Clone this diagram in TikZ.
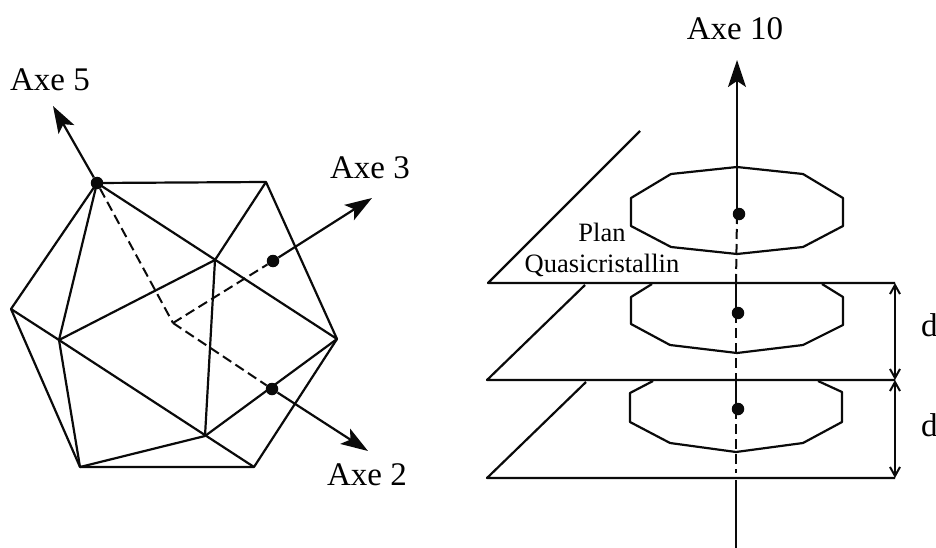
\documentclass[tikz,border=0pt]{standalone}
\usepackage{fontspec}
\setmainfont{Liberation Serif}
\usetikzlibrary{arrows.meta}
\definecolor{inkblack}{HTML}{0A0A0A}

\tikzset{
  edge/.style={inkblack,line width=2.2pt,line join=round},
  hidden/.style={inkblack,line width=2pt,dash pattern=on 10pt off 5pt},
  axis/.style={inkblack,line width=2.2pt,-{Stealth[length=27pt,width=18pt,inset=6pt]}},
  dimline/.style={inkblack,line width=1.9pt,{Straight Barb[length=9pt,width=10pt,line width=2pt]}-{Straight Barb[length=9pt,width=10pt,line width=2pt]}},
  dotmark/.style={circle,fill=inkblack,inner sep=0pt,minimum size=12.5pt},
  axlabel/.style={font=\fontsize{33}{35}\selectfont,inner sep=0pt},
  planlabel/.style={font=\fontsize{26.5}{28}\selectfont,inner sep=0pt}
}

\begin{document}
\begin{tikzpicture}[x=1pt,y=-1pt]

  \useasboundingbox (0,0) rectangle (936,548);

  % =====================================================================
  % LEFT -- icosahedron
  % =====================================================================
  \coordinate (topL) at (97,183);
  \coordinate (topR) at (266,182);
  \coordinate (left) at (11,309);
  \coordinate (right) at (337,339);
  \coordinate (front) at (215,260);
  \coordinate (inner) at (59,340);
  \coordinate (botL) at (80,467);
  \coordinate (botR) at (254,467);
  \coordinate (lower) at (205,436);
  \coordinate (centre) at (173,323);

  % outline
  \draw[edge] (topL) -- (topR) -- (right) -- (botR) -- (botL) -- (left) -- cycle;

  % inner faces
  \foreach \a/\b in {topL/inner, topL/right, topR/front, front/inner, front/lower,
                     left/inner, inner/botL, inner/botR, botL/lower, lower/right} {
    \draw[edge] (\a) -- (\b);
  }

  % axes and their marks
  \node[dotmark] (dot5) at (97,183) {};
  \node[dotmark] (dot3) at (273,261) {};
  \node[dotmark] (dot2) at (272,389) {};

  \node[axlabel] (axe5) at (50,80) {Axe 5};
  \node[axlabel] (axe3) at (370,168) {Axe 3};
  \node[axlabel] (axe2) at (367,475) {Axe 2};

  \coordinate (tip5) at (53,106);
  \coordinate (tip3) at (372,198);
  \coordinate (tip2) at (368,451);

  \draw[axis] (dot5) -- (tip5);
  \draw[axis] (dot3) -- (tip3);
  \draw[axis] (dot2) -- (tip2);

  \draw[hidden] (dot5) -- (centre);
  \draw[hidden] (centre) -- (dot3);
  \draw[hidden] (centre) -- (dot2);

  % =====================================================================
  % RIGHT -- stacked quasicrystalline planes
  % =====================================================================

  % planes (front edge, far edge)
  \foreach \n/\y/\ex/\ey/\xa in {1/283/640/131/488, 2/380/585/285/487, 3/478/586/382/487} {
    \coordinate (p\n) at (\xa,\y);
    \coordinate (q\n) at (895,\y);
    \coordinate (far\n) at (\ex,\ey);
    \draw[edge] (far\n) -- (p\n) -- (q\n);
  }

  % top polygon is whole, the two others run under the plane above
  \draw[edge] (737,167) -- (803,174) -- (843,198) -- (843,226) -- (803,247)
        -- (737,254) -- (671,247) -- (631,226) -- (631,198) -- (671,174) -- cycle;
  \draw[edge] (652,284) -- (631,297) -- (631,324) -- (670,345) -- (737,353)
        -- (803,345) -- (843,325) -- (843,297) -- (822,284);
  \draw[edge] (653,381) -- (630,393) -- (630,422) -- (670,443) -- (736,452)
        -- (803,443) -- (842,422) -- (842,392) -- (818,381);

  % main axis
  \node[dotmark] (dotA) at (739,214) {};
  \node[dotmark] (dotB) at (738,313) {};
  \node[dotmark] (dotC) at (738,409) {};
  \node[axlabel] (axe10) at (735,29) {Axe 10};

  \coordinate (tip10) at (737,60);
  \coordinate (startA) at (737,214);
  \coordinate (footA) at (736,283);
  \coordinate (startB) at (736,313);
  \coordinate (footB) at (736,380);
  \coordinate (startC) at (736,409);
  \coordinate (footC) at (736,473);
  \coordinate (footD) at (736,480);
  \coordinate (end10) at (736,548);

  \draw[axis] (startA) -- (tip10);
  \draw[hidden] (startA) -- (footA);
  \draw[edge] (footA) -- (startB);
  \draw[hidden] (startB) -- (footB);
  \draw[edge] (footB) -- (startC);
  \draw[hidden] (startC) -- (footC);
  \draw[edge] (footD) -- (end10);

  % spacing between planes
  \draw[dimline] (q1) -- (q2);
  \draw[dimline] (q2) -- (q3);
  \node[axlabel,anchor=west] (d1) at (921,325) {d};
  \node[axlabel,anchor=west] (d2) at (921,425) {d};

  % plane label
  \node[planlabel] (plan) at (602,232) {Plan};
  \node[planlabel] (quasi) at (602,265) {Quasicristallin};

\end{tikzpicture}
\end{document}
